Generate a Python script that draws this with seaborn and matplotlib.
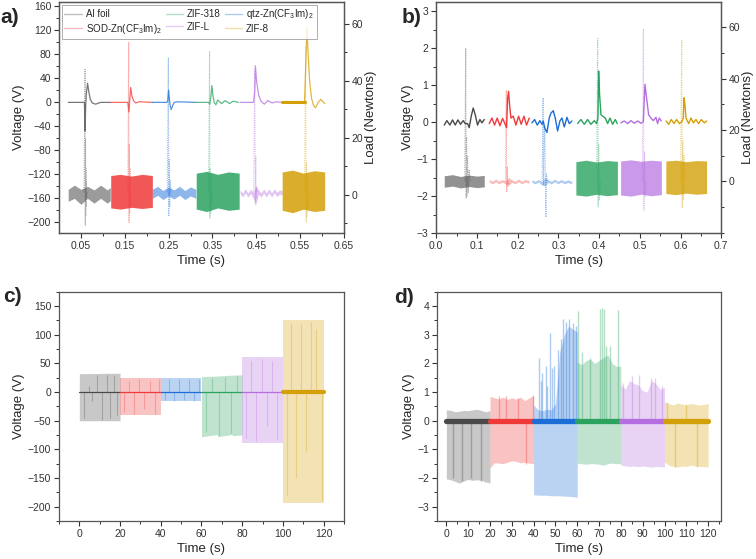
import matplotlib
matplotlib.use("Agg")
import matplotlib.pyplot as plt
from matplotlib.lines import Line2D
from matplotlib.ticker import MultipleLocator
import seaborn as sns

# ---- shared ----------------------------------------------------------------
NAMES = ["Al foil", "SOD-Zn(CF$_3$Im)$_2$", "qtz-Zn(CF$_3$Im)$_2$", "ZIF-318", "ZIF-L", "ZIF-8"]
COLORS = ["#4a4a4a", "#f03a3a", "#1c6ed6", "#2ba35f", "#b46ee0", "#d4a007"]

# ---- panel a: time (s) / voltage (V) ----------------------------------------
A_TRACE_T = [
    [0.021, 0.058, 0.0595, 0.061, 0.0625, 0.0652, 0.068, 0.0715, 0.076, 0.0835, 0.095, 0.117],
    [0.118, 0.157, 0.1595, 0.1615, 0.1636, 0.1665, 0.170, 0.175, 0.183, 0.213],
    [0.213, 0.246, 0.248, 0.250, 0.2515, 0.2535, 0.2558, 0.259, 0.2627, 0.270, 0.312],
    [0.313, 0.341, 0.344, 0.3465, 0.3487, 0.351, 0.354, 0.358, 0.362, 0.371, 0.379, 0.389, 0.397, 0.409],
    [0.413, 0.444, 0.4465, 0.448, 0.4509, 0.4555, 0.461, 0.4685, 0.4761, 0.486, 0.495, 0.509],
    [0.509, 0.560, 0.5637, 0.5652, 0.5683, 0.5713, 0.5759, 0.5805, 0.585, 0.591, 0.5973, 0.6019, 0.6065],
]
A_TRACE_V = [
    [0, 0, -48, -5, 15, 32, 18, 5, -1, -3, 0, 0],
    [0, 0, -16, 5, 25, 10, 3, -1, 1, 0],
    [0, 0, 2, 20, 8, -5, -12, -6, 0, 1, 0],
    [0, 0, -3, 10, 28, 12, 0, -4, 4, -2, 3, -2, 2, 0],
    [0, 0, 20, 61, 34, 12, 2, -3, 3, -1, 1, 0],
    [0, 0, 81, 125, 81, 39, 7, -5, -9, 0, 5, 1, -2],
]
A_SPIKE_T = [
    [0.057, 0.0595, 0.0600, 0.0605, 0.061, 0.0615, 0.062, 0.0625, 0.063, 0.064],
    [0.157, 0.159, 0.1598, 0.1605, 0.1612, 0.162, 0.163, 0.164],
    [0.247, 0.2495, 0.2505, 0.2515, 0.2525, 0.2535, 0.255],
    [0.341, 0.3435, 0.3442, 0.345, 0.346, 0.347, 0.348, 0.350],
    [0.444, 0.4465, 0.4479, 0.4488, 0.4495, 0.4505, 0.452],
    [0.560, 0.5625, 0.5637, 0.5645, 0.5655, 0.5665, 0.568, 0.570],
]
A_SPIKE_V = [
    [-150, 55, -205, -60, -190, -110, -175, -125, -160, -150],
    [-150, 100, -200, -70, -185, -110, -170, -150],
    [-150, 74, -190, -95, -175, -130, -150],
    [-150, 85, -193, -110, -185, -125, -170, -150],
    [-150, 55, -170, -90, -160, -140, -150],
    [-150, 92, -200, -100, -190, -120, -175, -150],
]
A_BLOCK_T = [
    [0.021, 0.035, 0.05, 0.065, 0.08, 0.095, 0.11, 0.117],
    [0.118, 0.14, 0.165, 0.19, 0.213],
    [0.213, 0.225, 0.237, 0.25, 0.262, 0.275, 0.287, 0.3, 0.312],
    [0.313, 0.337, 0.362, 0.387, 0.411],
    [0.413, 0.419, 0.425, 0.431, 0.437, 0.443, 0.449, 0.455, 0.461, 0.467, 0.473, 0.479,
     0.485, 0.491, 0.497, 0.503, 0.509],
    [0.509, 0.533, 0.557, 0.582, 0.606],
]
A_BLOCK_HI = [
    [-145, -138, -145, -140, -146, -138, -146, -142],
    [-122, -120, -123, -120, -122],
    [-145, -140, -147, -141, -146, -140, -147, -141, -145],
    [-118, -115, -120, -116, -118],
    [-146, -151, -144, -151, -145, -150, -140, -146, -151, -144, -151, -144, -151, -144, -150, -146, -147],
    [-116, -113, -118, -114, -116],
]
A_BLOCK_LO = [
    [-165, -160, -170, -160, -168, -160, -168, -164],
    [-176, -178, -175, -177, -175],
    [-160, -155, -162, -156, -161, -155, -162, -156, -160],
    [-178, -182, -176, -180, -178],
    [-152, -158, -151, -158, -152, -160, -170, -153, -158, -151, -158, -151, -158, -151, -157, -153, -154],
    [-180, -184, -178, -182, -180],
]

# ---- panel b ----------------------------------------------------------------
B_TRACE_T = [
    [0.0197, 0.0262, 0.0336, 0.0401, 0.0467, 0.0532, 0.0598, 0.0663, 0.0713, 0.0770, 0.0811,
     0.0860, 0.0909, 0.0958, 0.1015, 0.1073, 0.1122, 0.1179],
    [0.1302, 0.1368, 0.1433, 0.1499, 0.1564, 0.1630, 0.1687, 0.1728, 0.1753, 0.1777, 0.1802,
     0.1835, 0.1892, 0.1957, 0.2023, 0.2088, 0.2154, 0.2219, 0.2285],
    [0.2351, 0.2416, 0.2482, 0.2547, 0.2596, 0.2629, 0.2662, 0.2719, 0.2776, 0.2817, 0.2875,
     0.2924, 0.2981, 0.3038, 0.3088, 0.3145, 0.3210, 0.3268, 0.3333],
    [0.3473, 0.3554, 0.3636, 0.3718, 0.3800, 0.3882, 0.3939, 0.3972, 0.3989, 0.4013, 0.4046,
     0.4087, 0.4152, 0.4210, 0.4267, 0.4333, 0.4398, 0.4447],
    [0.4537, 0.4619, 0.4701, 0.4783, 0.4865, 0.4947, 0.5029, 0.5086, 0.5127, 0.5168, 0.5217,
     0.5274, 0.5332, 0.5397, 0.5438, 0.5479, 0.5528],
    [0.5643, 0.5708, 0.5774, 0.5840, 0.5905, 0.5971, 0.6036, 0.6069, 0.6085, 0.6110, 0.6134,
     0.6200, 0.6257, 0.6314, 0.6380, 0.6445, 0.6511, 0.6585, 0.6642],
]
B_TRACE_V = [
    [-0.08, 0.04, -0.08, 0.06, -0.08, 0.06, -0.06, 0.04, -0.04, -0.04, -0.15, 0.16, 0.38, 0.20,
     -0.08, 0.07, -0.02, 0.07],
    [-0.04, 0.11, -0.08, 0.11, -0.10, 0.10, -0.04, -0.15, 0.64, 0.83, 0.46, 0.11, 0.16, -0.08,
     0.16, -0.06, 0.16, -0.08, 0.11],
    [-0.02, 0.07, -0.08, 0.04, -0.06, 0.03, -0.15, -0.28, 0.11, 0.24, 0.31, 0.11, -0.24, 0.03,
     0.11, -0.13, 0.13, -0.04, 0.03],
    [-0.04, 0.07, -0.06, 0.07, -0.06, 0.04, -0.04, 0.11, 1.38, 0.73, 0.20, 0.16, 0.11, -0.04,
     0.11, -0.06, 0.07, -0.04],
    [-0.02, 0.03, -0.04, 0.04, -0.03, 0.03, -0.03, 0.01, 1.02, 0.64, 0.20, 0.11, 0.04, 0.13,
     -0.04, 0.11, 0.03],
    [0.03, -0.06, 0.07, -0.04, 0.07, -0.04, 0.01, 0.11, 0.66, 0.46, 0.11, -0.04, 0.11, -0.02,
     0.07, -0.04, 0.07, -0.02, 0.03],
]
B_SPIKE_T = [
    [0.070, 0.0725, 0.0735, 0.0745, 0.0755, 0.077, 0.079, 0.081, 0.083],
    [0.170, 0.1722, 0.1732, 0.1745, 0.176, 0.178],
    [0.260, 0.2625, 0.2635, 0.2665, 0.2695, 0.2705, 0.273],
    [0.394, 0.3965, 0.3978, 0.399, 0.401, 0.404],
    [0.506, 0.5088, 0.5100, 0.5115, 0.513, 0.516],
    [0.600, 0.6030, 0.6042, 0.6055, 0.607, 0.6085, 0.611],
]
B_SPIKE_V = [
    [-1.6, 2.0, -2.05, -0.4, -2.0, -0.9, -1.9, -1.3, -1.6],
    [-1.6, 0.86, -1.9, -1.2, -1.75, -1.6],
    [-1.6, 0.66, -1.7, -0.1, -2.57, -1.4, -1.6],
    [-1.6, 2.26, -2.29, -0.6, -2.1, -1.6],
    [-1.6, 2.52, -2.38, -0.8, -2.0, -1.6],
    [-1.6, 2.2, -2.32, -0.5, -2.1, -0.9, -1.6],
]
B_BLOCK_T = [
    [0.0197, 0.04, 0.06, 0.08, 0.10, 0.118],
    [0.130, 0.138, 0.146, 0.154, 0.162, 0.170, 0.178, 0.186, 0.194, 0.202, 0.210, 0.218, 0.228],
    [0.235, 0.243, 0.251, 0.259, 0.267, 0.275, 0.283, 0.291, 0.299, 0.307, 0.315, 0.323, 0.333],
    [0.343, 0.368, 0.394, 0.420, 0.445],
    [0.453, 0.478, 0.503, 0.528, 0.553],
    [0.564, 0.589, 0.614, 0.639, 0.664],
]
B_BLOCK_HI = [
    [-1.45, -1.42, -1.47, -1.43, -1.46, -1.44],
    [-1.55, -1.60, -1.54, -1.60, -1.55, -1.60, -1.50, -1.56, -1.60, -1.54, -1.60, -1.55, -1.58],
    [-1.56, -1.60, -1.55, -1.61, -1.50, -1.56, -1.60, -1.54, -1.60, -1.55, -1.60, -1.56, -1.60],
    [-1.07, -1.03, -1.08, -1.04, -1.06],
    [-1.05, -1.02, -1.06, -1.03, -1.05],
    [-1.05, -1.03, -1.07, -1.04, -1.05],
]
B_BLOCK_LO = [
    [-1.76, -1.73, -1.78, -1.74, -1.77, -1.75],
    [-1.62, -1.67, -1.61, -1.67, -1.62, -1.67, -1.70, -1.63, -1.67, -1.61, -1.67, -1.62, -1.65],
    [-1.63, -1.67, -1.62, -1.70, -1.72, -1.63, -1.67, -1.61, -1.67, -1.62, -1.67, -1.63, -1.67],
    [-1.97, -2.00, -1.95, -1.99, -1.96],
    [-1.97, -2.00, -1.95, -1.99, -1.96],
    [-1.93, -1.96, -1.92, -1.95, -1.93],
]

# ---- panel c: time (s) / voltage envelope (V) -------------------------------
C_T = [
    [0, 20], [20, 40], [40, 60],
    [60, 67.8, 67.9, 75.2, 75.3, 80],
    [80, 100], [100, 120],
]
C_HI = [[32, 33], [24, 24], [25, 25], [27, 28, 28, 29.5, 29.5, 30], [61, 61], [125, 125]]
C_LO = [[-50, -50], [-40, -40], [-16, -16], [-78, -74, -78, -74, -76, -75], [-89, -89], [-194, -194]]
C_BASE = [0, 0, 0, 0, 0, 0]
# darker individual pulses seen inside the envelopes
C_STREAK_T = [
    [2.1, 4.6, 6.2, 8.7, 11.2, 13.6, 15.3, 16.9, 18.5],
    [22.0, 24.5, 27.0, 29.5, 32.0, 34.5, 37.0, 39.0],
    [42.0, 44.0, 46.5, 49.0, 51.5, 54.0, 56.5, 59.0],
    [62.0, 65.0, 68.5, 71.5, 74.5, 77.5],
    [82.0, 84.5, 87.0, 89.5, 92.0, 94.5, 97.0],
    [102.0, 104.0, 106.5, 109.0, 111.5, 114.0, 116.5, 119.0],
]
C_STREAK_V = [
    [-45, 10, -15, 30, -48, 30, -45, 30, -40],
    [-35, 20, -38, 22, -30, 20, -38, 22],
    [-14, 22, -15, 23, -14, 22, -15, 22],
    [-70, 25, -75, 27, -72, 28],
    [-80, 55, -85, 58, -60, 55, -82],
    [-180, 120, -150, 118, -105, 122, 110, -190],
]

# ---- panel d ----------------------------------------------------------------
D_T = [
    [0, 2, 4, 6, 8, 10, 12, 14, 16, 18, 20],
    [20, 22, 24, 26, 28, 30, 32, 34, 36, 38, 40],
    [40, 42, 44, 46, 48, 50, 52, 54, 56, 58, 60],
    [60, 62, 64, 66, 68, 70, 72, 74, 76, 78, 80],
    [80, 82, 84, 86, 88, 90, 92, 94, 96, 98, 100],
    [100, 102, 104, 106, 108, 110, 112, 114, 116, 118, 120],
]
D_HI = [
    [0.38, 0.36, 0.31, 0.33, 0.36, 0.35, 0.38, 0.40, 0.36, 0.31, 0.35],
    [0.85, 0.80, 0.76, 0.82, 0.74, 0.80, 0.75, 0.82, 0.70, 0.80, 0.87],
    [0.55, 0.38, 0.35, 0.40, 0.38, 0.60, 2.40, 3.00, 3.30, 3.20, 3.10],
    [2.05, 1.95, 2.10, 2.15, 2.00, 2.10, 2.20, 2.30, 2.00, 1.90, 1.90],
    [1.25, 1.10, 1.40, 1.30, 1.25, 1.05, 1.00, 1.40, 1.30, 1.10, 1.15],
    [0.65, 0.60, 0.55, 0.62, 0.58, 0.55, 0.60, 0.58, 0.55, 0.57, 0.60],
]
D_LO = [
    [-2.03, -2.06, -2.12, -2.18, -2.10, -2.05, -2.08, -2.06, -2.08, -2.14, -2.17],
    [-1.65, -1.47, -1.48, -1.50, -1.45, -1.40, -1.42, -1.47, -1.45, -1.48, -1.50],
    [-2.58, -2.60, -2.60, -2.60, -2.62, -2.62, -2.62, -2.63, -2.64, -2.65, -2.67],
    [-1.48, -1.50, -1.52, -1.50, -1.50, -1.52, -1.55, -1.50, -1.48, -1.50, -1.50],
    [-1.55, -1.58, -1.60, -1.58, -1.60, -1.58, -1.60, -1.62, -1.60, -1.60, -1.62],
    [-1.45, -1.55, -1.60, -1.62, -1.58, -1.60, -1.55, -1.58, -1.60, -1.60, -1.62],
]
D_SPIKE_T = [
    [3.0, 7.0, 11.5, 16.0],
    [24.0, 27.5, 33, 36.5, 39.5],
    [42.3, 43.2, 44, 45.6, 46.3, 47.6, 48.5, 49.5, 51, 52.5, 53.3, 55, 56.4, 57.9, 59.4],
    [60.3, 62, 66, 70.5, 71.2, 72.2, 73, 75, 78.5],
    [81, 85, 88.5, 94, 95.5, 99],
    [101, 105, 110, 115],
]
D_SPIKE_V = [
    [-2.0, -2.1, -2.0, -2.1],
    [0.85, 0.85, 0.80, -1.5, 0.90],
    [2.19, 1.40, 1.66, 1.90, 1.20, 3.05, 1.85, 1.90, 2.48, 2.85, 3.55, 3.45, 3.55, 3.42, 3.30],
    [3.83, 2.40, 2.20, 3.90, 3.95, 3.90, 2.60, 2.60, 3.85],
    [1.30, 1.55, 1.60, 1.50, 1.50, 1.20],
    [0.65, -1.6, 0.60, -1.6],
]
D_BASE = [-0.02, 0, 0, 0, 0, 0]

sns.set_theme(style="ticks")
plt.rcParams["font.family"] = ["Liberation Sans", "DejaVu Sans"]
plt.rcParams["mathtext.default"] = "regular"
plt.rcParams["axes.edgecolor"] = "#555555"
plt.rcParams["axes.linewidth"] = 0.9

TICK_FS = 7.5
LABEL_FS = 9.5


def style_axes(ax, xmaj, xmin, ymaj, ymin):
    ax.xaxis.set_major_locator(MultipleLocator(xmaj))
    ax.xaxis.set_minor_locator(MultipleLocator(xmin))
    ax.yaxis.set_major_locator(MultipleLocator(ymaj))
    ax.yaxis.set_minor_locator(MultipleLocator(ymin))
    ax.tick_params(which="major", direction="out", length=3.5, width=0.8,
                   labelsize=TICK_FS, colors="#333333", pad=2)
    ax.tick_params(which="minor", direction="out", length=2, width=0.7, colors="#333333")
    for s in ax.spines.values():
        s.set_visible(True)
    ax.set_xlabel("Time (s)", fontsize=LABEL_FS, labelpad=3)
    ax.set_ylabel("Voltage (V)", fontsize=LABEL_FS, labelpad=2)


def right_load(ax, lim):
    rx = ax.twinx()
    rx.set_ylim(*lim)
    rx.set_yticks([0, 20, 40, 60])
    rx.yaxis.set_minor_locator(MultipleLocator(10))
    rx.tick_params(which="major", direction="out", length=3.5, width=0.8,
                   labelsize=TICK_FS, colors="#333333", pad=2)
    rx.tick_params(which="minor", direction="out", length=2, width=0.7, colors="#333333")
    rx.set_ylabel("Load (Newtons)", fontsize=LABEL_FS, labelpad=1)
    return rx


fig = plt.figure(figsize=(7.56, 5.59), dpi=100)
ax_a = fig.add_axes([0.078, 0.583, 0.377, 0.413])
ax_b = fig.add_axes([0.577, 0.583, 0.377, 0.413])
ax_c = fig.add_axes([0.078, 0.068, 0.377, 0.410])
ax_d = fig.add_axes([0.578, 0.068, 0.376, 0.410])

dot = (0, (1, 1))
A_ALPHA = [0.55, 0.85, 0.5, 0.85, 0.4, 0.85]
B_ALPHA = [0.6, 0.35, 0.35, 0.8, 0.7, 0.8]

# panel a
for i, c in enumerate(COLORS):
    ax_a.fill_between(A_BLOCK_T[i], A_BLOCK_LO[i], A_BLOCK_HI[i], color=c,
                      alpha=A_ALPHA[i], lw=0)
    ax_a.plot(A_SPIKE_T[i], A_SPIKE_V[i], ls=dot, lw=0.8, color=c, alpha=0.45)
    sns.lineplot(x=A_TRACE_T[i], y=A_TRACE_V[i], ax=ax_a, color=c, lw=0.9,
                 alpha=0.75, sort=False, estimator=None)
ax_a.plot(A_TRACE_T[5][:2], A_TRACE_V[5][:2], color=COLORS[5], lw=2.2)
ax_a.set_xlim(0, 0.65)
ax_a.set_ylim(-218, 167)
style_axes(ax_a, 0.1, 0.05, 40, 20)
ax_a.set_xticks([0.05, 0.15, 0.25, 0.35, 0.45, 0.55, 0.65])
ax_a.set_xticks([0.1, 0.2, 0.3, 0.4, 0.5, 0.6], minor=True)
right_load(ax_a, (-13.4, 67.6))

order = [0, 1, 3, 4, 2, 5]
handles = [Line2D([], [], color=COLORS[k], lw=1.0, alpha=0.35) for k in order]
leg = ax_a.legend(handles, [NAMES[k] for k in order], ncol=3, loc="upper left",
                  bbox_to_anchor=(0.009, 0.99), fontsize=7, frameon=True,
                  fancybox=False, edgecolor="#999999", borderpad=0.3,
                  handlelength=1.8, handletextpad=0.4, columnspacing=0.4,
                  labelspacing=0.25, borderaxespad=0.0)
leg.get_frame().set_linewidth(0.7)

# panel b
for i, c in enumerate(COLORS):
    ax_b.fill_between(B_BLOCK_T[i], B_BLOCK_LO[i], B_BLOCK_HI[i], color=c,
                      alpha=B_ALPHA[i], lw=0)
    ax_b.plot(B_SPIKE_T[i], B_SPIKE_V[i], ls=dot, lw=0.8, color=c, alpha=0.45)
    sns.lineplot(x=B_TRACE_T[i], y=B_TRACE_V[i], ax=ax_b, color=c, lw=1.0,
                 sort=False, estimator=None)
ax_b.set_xlim(0, 0.7)
ax_b.set_ylim(-3, 3.24)
style_axes(ax_b, 0.1, 0.05, 1, 0.5)
right_load(ax_b, (-20.2, 69.7))

# panel c
for i, c in enumerate(COLORS):
    ax_c.fill_between(C_T[i], C_LO[i], C_HI[i], color=c, alpha=0.3, lw=0)
    ax_c.vlines(C_STREAK_T[i], 0, C_STREAK_V[i], color=c, alpha=0.3, lw=0.8)
    sns.lineplot(x=[C_T[i][0], C_T[i][-1]], y=[C_BASE[i], C_BASE[i]], ax=ax_c,
                 color=c, lw=3.0 if i == 5 else 0.9, estimator=None)
ax_c.set_xlim(-10, 130)
ax_c.set_ylim(-225, 175)
style_axes(ax_c, 20, 10, 50, 25)

# panel d
for i, c in enumerate(COLORS):
    ax_d.fill_between(D_T[i], D_LO[i], D_HI[i], color=c, alpha=0.3, lw=0)
    ax_d.vlines(D_SPIKE_T[i], 0, D_SPIKE_V[i], color=c, alpha=0.35, lw=1.0)
    sns.lineplot(x=[D_T[i][0], D_T[i][-1]], y=[D_BASE[i], D_BASE[i]], ax=ax_d,
                 color=c, lw=3.8, estimator=None)
ax_d.set_xlim(-4.3, 126)
ax_d.set_ylim(-3.5, 4.5)
style_axes(ax_d, 10, 5, 1, 0.5)

for txt, x, y in [("a)", 0.0, 0.968), ("b)", 0.531, 0.968), ("c)", 0.004, 0.47), ("d)", 0.521, 0.468)]:
    fig.text(x, y, txt, fontsize=15, fontweight="bold", ha="left", va="center")

fig.savefig("out.png", dpi=100)
